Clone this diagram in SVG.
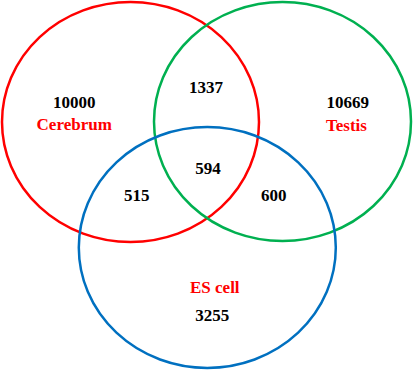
<svg xmlns="http://www.w3.org/2000/svg" width="414" height="371" viewBox="0 0 414 371">
<style>
.c{fill:none;stroke-width:2.5}
.n{font-family:"Liberation Serif","Times New Roman",serif;font-weight:bold;font-size:17px;text-anchor:middle;fill:#000}
.l{font-family:"Liberation Serif","Times New Roman",serif;font-weight:bold;font-size:17px;text-anchor:middle;fill:#FF0000}
</style>
<rect width="414" height="371" fill="#fff"/>
<g id="cerebrum"><ellipse class="c" cx="130.5" cy="122" rx="128.5" ry="120" stroke="#FF0000"/></g>
<g id="testis"><ellipse class="c" cx="282.5" cy="121.5" rx="128.5" ry="119.5" stroke="#00B050"/></g>
<g id="escell"><ellipse class="c" cx="207.3" cy="247.5" rx="128.5" ry="120.5" stroke="#0070C0"/></g>
<g id="labels">
<text class="n" x="74.2" y="108.3">10000</text>
<text class="l" x="74.2" y="130">Cerebrum</text>
<text class="n" x="347.8" y="108.3">10669</text>
<text class="l" x="346.5" y="130.7">Testis</text>
<text class="n" x="206" y="93">1337</text>
<text class="n" x="208" y="174">594</text>
<text class="n" x="136.7" y="201">515</text>
<text class="n" x="273.7" y="201">600</text>
<text class="l" x="214.8" y="293.3">ES cell</text>
<text class="n" x="212.3" y="321">3255</text>
</g>
</svg>
